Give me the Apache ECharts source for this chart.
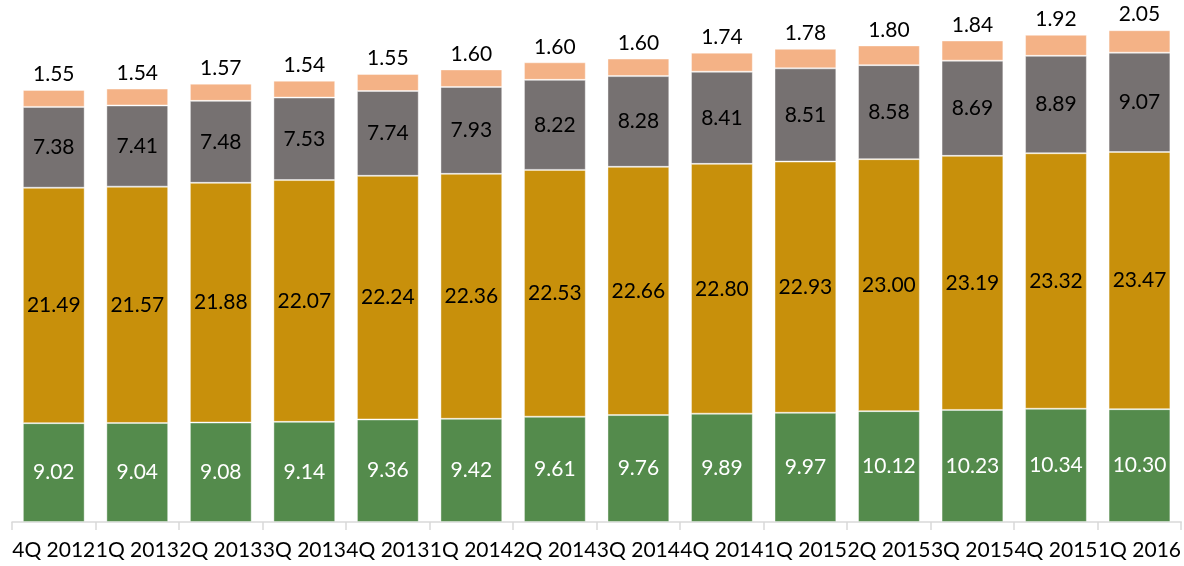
<!DOCTYPE html>
<html>
<head>
<meta charset="utf-8">
<script src="https://cdn.jsdelivr.net/npm/echarts@6/dist/echarts.min.js"></script>
<style>
  html, body { margin: 0; padding: 0; background: #fff; }
  #chart { width: 1184px; height: 566px; }
</style>
</head>
<body>
<div id="chart"></div>
<script>
const quarters = ['4Q 2012', '1Q 2013', '2Q 2013', '3Q 2013', '4Q 2013', '1Q 2014', '2Q 2014',
                  '3Q 2014', '4Q 2014', '1Q 2015', '2Q 2015', '3Q 2015', '4Q 2015', '1Q 2016'];
const seriesA = [9.02, 9.04, 9.08, 9.14, 9.36, 9.42, 9.61, 9.76, 9.89, 9.97, 10.12, 10.23, 10.34, 10.30];
const seriesB = [21.49, 21.57, 21.88, 22.07, 22.24, 22.36, 22.53, 22.66, 22.80, 22.93, 23.00, 23.19, 23.32, 23.47];
const seriesC = [7.38, 7.41, 7.48, 7.53, 7.74, 7.93, 8.22, 8.28, 8.41, 8.51, 8.58, 8.69, 8.89, 9.07];
const seriesD = [1.55, 1.54, 1.57, 1.54, 1.55, 1.60, 1.60, 1.60, 1.74, 1.78, 1.80, 1.84, 1.92, 2.05];

const FONT = 'Lato, "Open Sans", sans-serif';

function stackSeries(name, data, color, labelColor, pos) {
  return {
    name: name,
    type: 'bar',
    stack: 'total',
    data: data,
    barWidth: '74%',
    itemStyle: { color: color, borderColor: 'rgba(255,255,255,0.4)', borderWidth: 1 },
    label: {
      show: true,
      position: pos,
      distance: 5,
      color: labelColor,
      fontFamily: FONT,
      fontSize: 21,
      formatter: p => p.value.toFixed(2)
    }
  };
}

const chart = echarts.init(document.getElementById('chart'));
chart.setOption({
  animation: false,
  grid: { left: 12, right: 2, top: 29, bottom: 44 },
  xAxis: {
    type: 'category',
    data: quarters,
    axisLine: { lineStyle: { color: '#d9d9d9', width: 1.5 } },
    axisTick: { show: true, alignWithLabel: false, length: 8, lineStyle: { color: '#d9d9d9', width: 1.5 } },
    axisLabel: { interval: 0, color: '#000', fontFamily: FONT, fontSize: 21, margin: 18 }
  },
  yAxis: {
    type: 'value',
    min: 0,
    max: 45,
    show: false
  },
  series: [
    stackSeries('A', seriesA, '#548B4C', '#ffffff', 'inside'),
    stackSeries('B', seriesB, '#C8900B', '#000000', 'inside'),
    stackSeries('C', seriesC, '#767171', '#000000', 'inside'),
    stackSeries('D', seriesD, '#F4B286', '#000000', 'top')
  ]
});
</script>
</body>
</html>
